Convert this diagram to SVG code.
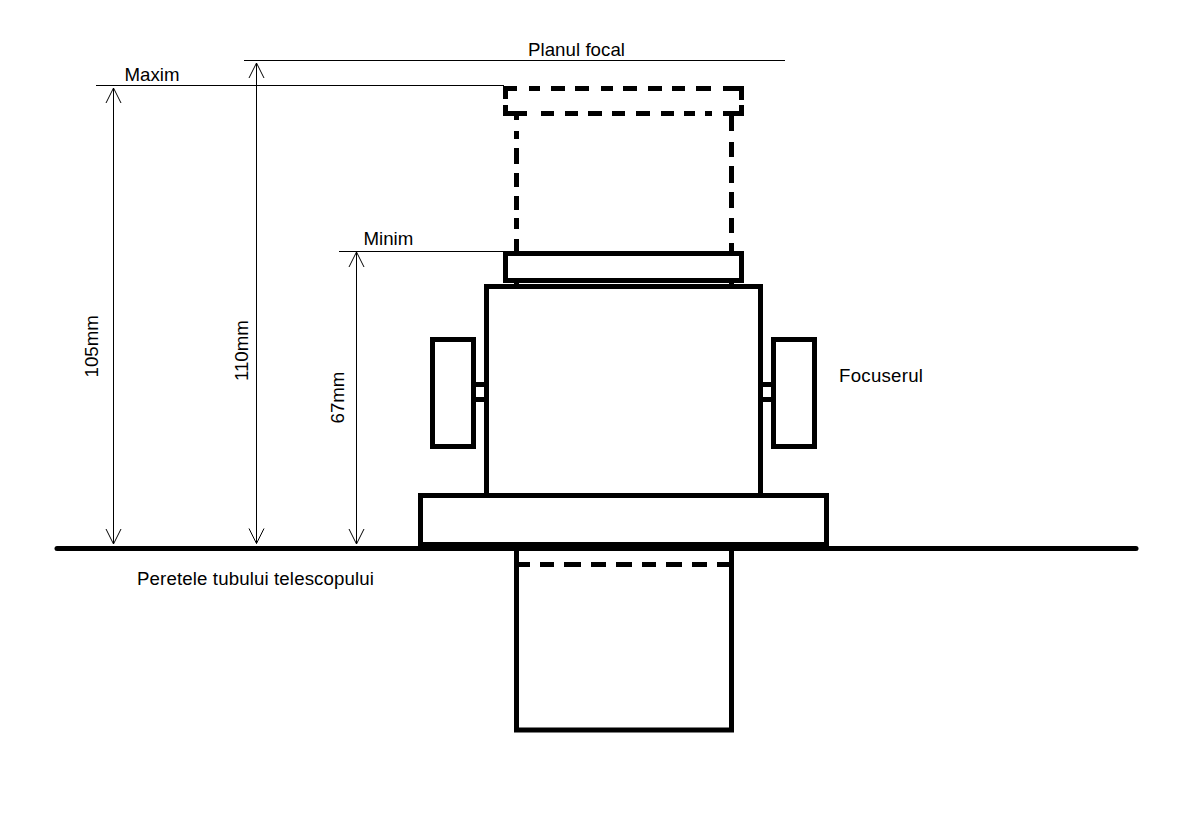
<svg xmlns="http://www.w3.org/2000/svg" width="1178" height="835" viewBox="0 0 1178 835">
<style>
text{font-family:"Liberation Sans",Arial,sans-serif;font-size:18.67px;fill:#000}
.s{fill:none;stroke:#000;stroke-width:5}
.t{fill:none;stroke:#000;stroke-width:1}
.f{fill:#000;stroke:none}
</style>
<defs>
<marker id="a" markerUnits="userSpaceOnUse" markerWidth="18" markerHeight="18" refX="16" refY="9" orient="auto-start-reverse" viewBox="0 0 18 18"><path d="M1 1.5L16 9L1 16.5" fill="none" stroke="#000" stroke-width="1"/></marker>
</defs>
<rect width="1178" height="835" fill="#fff"/>
<g id="connectors">
<path class="t" d="M96 85.5H504M244 60.5H785M339 251.5H503"/>
<path class="t" d="M113.5 88V544" marker-start="url(#a)" marker-end="url(#a)"/>
<path class="t" d="M256.5 63V543.5" marker-start="url(#a)" marker-end="url(#a)"/>
<path class="t" d="M356.5 252V544" marker-start="url(#a)" marker-end="url(#a)"/>
</g>
<g id="ground"><path d="M57 548.5H1136" fill="none" stroke="#000" stroke-width="5" stroke-linecap="round"/></g>
<g id="max-cap">
<path class="f" d="M503 86h14v5h-9v8h-5zM529 86h11v5h-11zM551 86h14v5h-14zM575 86h14v5h-14zM601 86h12v5h-12zM623 86h14v5h-14zM648 86h14v5h-14zM672 86h13v5h-13zM696 86h15v5h-15zM723 86h21v14h-5v-9h-16zM503 105h5v6h19v5h-24zM541 111h13v5h-13zM565 111h13v5h-13zM588 111h14v5h-14zM612 111h13v5h-13zM636 111h14v5h-14zM661 111h13v5h-13zM684 111h11v5h-11zM705 111h7v5h-7zM723 111h16v-6h5v11h-21z"/>
</g>
<g id="max-tube">
<path class="f" d="M514 116h5v4h-5zM514 131h5v8h-5zM514 148h5v16h-5zM514 173h5v14h-5zM514 196h5v14h-5zM514 218h5v11h-5zM514 239h5v12h-5zM729 116h5v15h-5zM729 142h5v15h-5zM729 166h5v17h-5zM729 192h5v16h-5zM729 218h5v15h-5zM729 243h5v8h-5zM514 283h5v2h-5zM729 283h5v2h-5z"/>
</g>
<g id="min-cap"><rect class="s" x="505.5" y="253.5" width="236" height="27"/></g>
<g id="body"><rect class="s" x="486.5" y="286.5" width="274" height="209"/></g>
<g id="knob-left"><rect class="s" x="432.5" y="339.5" width="41" height="107"/><path class="f" d="M476 382h9v5h-9zM476 397h9v5h-9z"/></g>
<g id="knob-right"><rect class="s" x="773.5" y="339.5" width="41" height="107"/><path class="f" d="M762 382h9v5h-9zM762 397h9v5h-9z"/></g>
<g id="base"><rect class="s" x="420.5" y="495.5" width="406" height="49"/></g>
<g id="lower-tube">
<path class="s" d="M516.5 551V730H731.5V551"/>
<path class="f" d="M519 562h11v5h-11zM540 562h14v5h-14zM564 562h17v5h-17zM591 562h15v5h-15zM616 562h16v5h-16zM642 562h14v5h-14zM666 562h16v5h-16zM692 562h15v5h-15zM717 562h13v5h-13z"/>
</g>
<g id="labels">
<text x="528" y="55.5" textLength="97">Planul focal</text>
<text x="124.5" y="81">Maxim</text>
<text x="363.5" y="245">Minim</text>
<text x="839" y="381.5" textLength="84">Focuserul</text>
<text x="137" y="585" textLength="237">Peretele tubului telescopului</text>
<text transform="translate(98 377.5) rotate(-90)">105mm</text>
<text transform="translate(248 381) rotate(-90)">110mm</text>
<text transform="translate(344 423.5) rotate(-90)">67mm</text>
</g>
</svg>
